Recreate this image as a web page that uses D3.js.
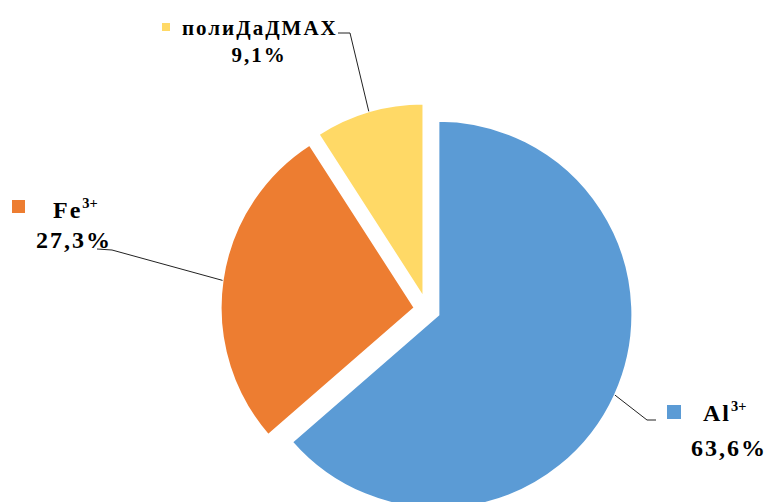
<!DOCTYPE html>
<html>
<head>
<meta charset="utf-8">
<script src="https://cdn.jsdelivr.net/npm/d3@7"></script>
<style>
  html, body { margin: 0; padding: 0; background: #fff; }
</style>
</head>
<body>
<svg id="chart" width="771" height="502"></svg>
<script>
// Coagulant composition shares
const categories = ["Al", "Fe", "полиДаДМАХ"];
const charges = ["3+", "3+", ""];
const shares = [63.6, 27.3, 9.1];

const colors = ["#5B9BD5", "#ED7D31", "#FFD966"];
const fontFamily = "'Liberation Serif', 'Times New Roman', 'DejaVu Serif', serif";

const cx = 427, cy = 309.5, radius = 194, explode = 12.5;

// label placement for each slice: legend key, name, percentage, leader elbow
const layout = [
  { key: [667, 405, 14], name: [703, 421], size: 24, pct: [729, 456], elbow: [[647, 420], [656, 420]] },
  { key: [12, 200, 13], name: [53, 218], size: 24, pct: [74, 248], elbow: [[112, 250], [97, 249]] },
  { key: [162, 23, 8], name: [182, 35], size: 21, pct: [259, 62], elbow: [[350, 33], [338, 33]] }
];

const svg = d3.select("#chart");
const arcs = d3.pie().sort(null).value(d => d)(shares);
const arc = d3.arc().innerRadius(0).outerRadius(radius);
const midAngle = d => (d.startAngle + d.endAngle) / 2;
const unit = a => [Math.sin(a), -Math.cos(a)];

const pieG = svg.append("g").attr("transform", `translate(${cx},${cy})`);
pieG.selectAll("path").data(arcs).join("path")
  .attr("d", arc)
  .attr("transform", d => {
    const [ux, uy] = unit(midAngle(d));
    return `translate(${ux * explode},${uy * explode})`;
  })
  .attr("fill", (d, i) => colors[i])
  .attr("stroke", "#fff")
  .attr("stroke-width", 2);

// leader lines from the middle of each outer arc to its label
const line = d3.line();
svg.append("g").selectAll("path").data(arcs).join("path")
  .attr("d", (d, i) => {
    const [ux, uy] = unit(midAngle(d));
    const start = [cx + ux * (explode + radius), cy + uy * (explode + radius)];
    return line([start, ...layout[i].elbow]);
  })
  .attr("fill", "none")
  .attr("stroke", "#222")
  .attr("stroke-width", 1);

const fmt = v => d3.format(".1f")(v).replace(".", ",") + "%";

const labels = svg.append("g").selectAll("g").data(arcs).join("g");

labels.append("rect")
  .attr("x", (d, i) => layout[i].key[0])
  .attr("y", (d, i) => layout[i].key[1])
  .attr("width", (d, i) => layout[i].key[2])
  .attr("height", (d, i) => layout[i].key[2])
  .attr("fill", (d, i) => colors[i]);

const names = labels.append("text")
  .attr("x", (d, i) => layout[i].name[0])
  .attr("y", (d, i) => layout[i].name[1])
  .attr("font-family", fontFamily)
  .attr("font-weight", "bold")
  .attr("fill", "#000")
  .attr("font-size", (d, i) => layout[i].size);
names.append("tspan")
  .attr("letter-spacing", 2)
  .text((d, i) => categories[i]);
names.append("tspan")
  .attr("font-size", (d, i) => layout[i].size * 0.6)
  .attr("dy", (d, i) => -layout[i].size * 0.42)
  .text((d, i) => charges[i]);

labels.append("text")
  .attr("x", (d, i) => layout[i].pct[0])
  .attr("y", (d, i) => layout[i].pct[1])
  .attr("font-family", fontFamily)
  .attr("font-weight", "bold")
  .attr("fill", "#000")
  .attr("font-size", (d, i) => layout[i].size)
  .attr("letter-spacing", 2)
  .attr("text-anchor", "middle")
  .text((d, i) => fmt(shares[i]));
</script>
</body>
</html>
